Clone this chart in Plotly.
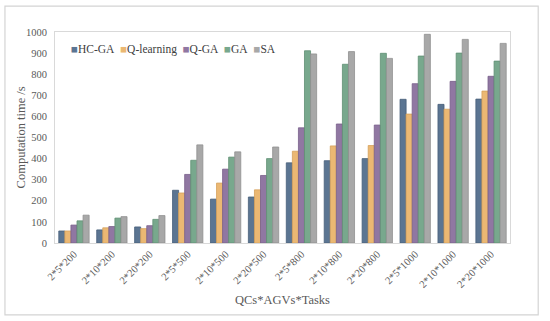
import plotly.graph_objects as go

categories = ["2*5*200", "2*10*200", "2*20*200", "2*5*500", "2*10*500", "2*20*500",
              "2*5*800", "2*10*800", "2*20*800", "2*5*1000", "2*10*1000", "2*20*1000"]
hc_ga = [57, 62, 76, 250, 208, 218, 380, 390, 400, 681, 657, 682]
q_learning = [57, 72, 68, 237, 284, 252, 435, 460, 462, 611, 634, 720]
q_ga = [85, 78, 82, 325, 350, 320, 546, 564, 559, 755, 766, 790]
ga = [105, 118, 112, 392, 407, 400, 911, 847, 899, 886, 900, 862]
sa = [132, 125, 130, 465, 432, 455, 896, 907, 875, 989, 965, 946]

series = [
    ("HC-GA", hc_ga, "#5b7592", "#48607a"),
    ("Q-learning", q_learning, "#ebb873", "#d6a15c"),
    ("Q-GA", q_ga, "#9077a2", "#78608a"),
    ("GA", ga, "#78a88d", "#5f8f74"),
    ("SA", sa, "#a8a8a8", "#919191"),
]

fig = go.Figure()
for name, vals, col, edge in series:
    fig.add_trace(go.Bar(name=name, x=categories, y=vals, showlegend=False,
                         marker=dict(color=col, line=dict(color=edge, width=0.8))))

legend_text = "&nbsp;&nbsp;".join(
    f"<span style='color:{col}'>■</span>{name}" for name, _, col, _ in series)

font = "Liberation Serif, Times New Roman, serif"
fig.update_layout(
    width=550, height=321,
    margin=dict(l=55, r=40, t=32, b=78),
    paper_bgcolor="white", plot_bgcolor="white",
    barmode="group", bargap=0.2, bargroupgap=0.0,
    font=dict(family=font, size=11, color="#595959"),
    xaxis=dict(automargin=False,
               tickangle=-45, tickfont=dict(size=10.5), showline=True, linecolor="#d9d9d9",
               mirror=True, ticks="", showgrid=False),
    yaxis=dict(automargin=False,
               range=[0, 1000], dtick=100, tickfont=dict(size=10.5), showline=True,
               linecolor="#d9d9d9", mirror=True, showgrid=False, ticks="outside",
               ticklen=5, tickcolor="rgba(0,0,0,0)"),
    annotations=[
        dict(text=legend_text, xref="paper", yref="paper", x=0.03, y=0.915,
             xanchor="left", yanchor="middle", showarrow=False,
             font=dict(family=font, size=11.5, color="#404040")),
        dict(text="Computation time /s", xref="paper", yref="paper", x=-0.075, y=0.5,
             xanchor="center", yanchor="middle", textangle=-90, showarrow=False,
             font=dict(family=font, size=12.5, color="#595959")),
        dict(text="QCs*AGVs*Tasks", xref="paper", yref="paper", x=0.5, y=-0.27,
             xanchor="center", yanchor="middle", showarrow=False,
             font=dict(family=font, size=12.5, color="#595959")),
    ],
    shapes=[dict(type="rect", xref="paper", yref="paper", x0=-0.11, x1=1.062, y0=-0.341, y1=1.123,
                 line=dict(color="#d4d4d4", width=1.2), fillcolor="rgba(0,0,0,0)", layer="above")],
)
fig.write_html("out.html", config={"displayModeBar": False},
               post_script="document.body.style.margin='0';document.body.style.padding='0';")
